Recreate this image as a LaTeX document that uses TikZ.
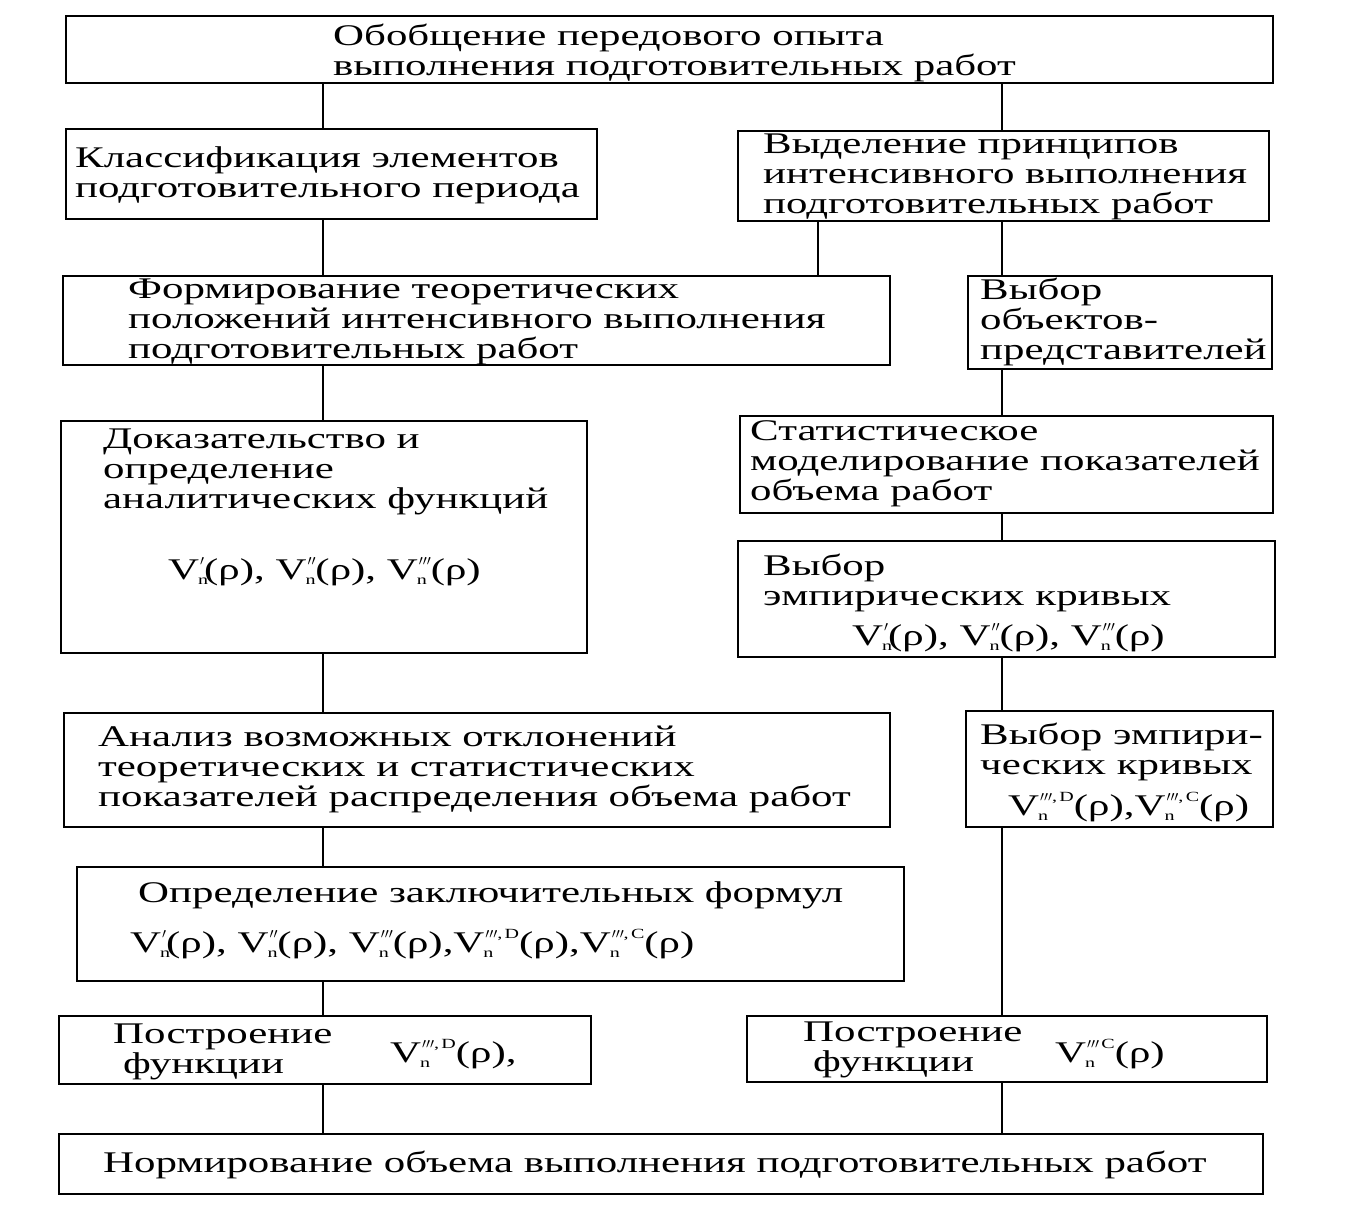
\documentclass[tikz,border=0pt]{standalone}
\usepackage{fontspec}
\setmainfont{Liberation Serif}[FakeStretch=1.43]
\newcommand\V[1]{V\kern-1pt\raisebox{-5pt}{\fontsize{14}{14}\selectfont n}\kern-8pt\raisebox{14pt}{\fontsize{14}{14}\selectfont #1}}
\newcommand\pa{$\prime$}
\newcommand\pb{$\prime\prime$}
\newcommand\pc{$\prime\prime\prime$}
\begin{document}
\begin{tikzpicture}[x=1pt,y=-1pt,
  box/.style={draw,line width=2.2pt,inner sep=0pt,anchor=north west},
  txt/.style={anchor=west,inner sep=0pt,align=left,font=\fontsize{30}{30}\selectfont},
  conn/.style={line width=2.2pt}]
\useasboundingbox (0,0) rectangle (1358,1212);
\newcommand\bx[5]{\node[box,minimum width=#4-#2,minimum height=#5-#3] (#1) at (#2,#3) {};}
\bx{b1}{65}{15}{1272}{82}
\bx{b2}{65}{128}{596}{218}
\bx{b3}{737}{130}{1268}{220}
\bx{b4}{62}{275}{889}{364}
\bx{b5}{967}{275}{1271}{368}
\bx{b6}{60}{420}{586}{652}
\bx{b7}{739}{415}{1272}{512}
\bx{b8}{737}{540}{1274}{656}
\bx{b9}{63}{712}{889}{826}
\bx{b10}{965}{710}{1272}{826}
\bx{b11}{76}{866}{903}{980}
\bx{b12}{58}{1015}{590}{1083}
\bx{b13}{746}{1015}{1266}{1081}
\bx{b14}{58}{1133}{1262}{1193}

\node[txt] (t1) at (333,53) {Обобщение передового опыта\\выполнения подготовительных работ};
\node[txt] (t2) at (75,175) {Классификация элементов\\подготовительного периода};
\node[txt] (t3) at (763,177) {Выделение принципов\\интенсивного выполнения\\подготовительных работ};
\node[txt] (t4) at (128,322) {Формирование теоретических\\положений интенсивного выполнения\\подготовительных работ};
\node[txt] (t5) at (980,322) {Выбор\\объектов-\\представителей};
\node[txt] (t6) at (103,472) {Доказательство и\\определение\\аналитических функций};
\node[txt] (f6) at (168,572) {\V{\pa}(ρ), \V{\pb}(ρ), \V{\pc}(ρ)};
\node[txt] (t7) at (750,464) {Статистическое\\моделирование показателей\\объема работ};
\node[txt] (t8) at (763,583) {Выбор\\эмпирических кривых};
\node[txt] (f8) at (852,638) {\V{\pa}(ρ), \V{\pb}(ρ), \V{\pc}(ρ)};
\node[txt] (t9) at (98,769) {Анализ возможных отклонений\\теоретических и статистических\\показателей распределения объема работ};
\node[txt] (t10) at (980,752) {Выбор эмпири-\\ческих кривых};
\node[txt] (f10) at (1008,807) {\V{\pc,\,D}(ρ),\V{\pc,\,C}(ρ)};
\node[txt] (t11) at (138,895) {Определение заключительных формул};
\node[txt] (f11) at (130,944) {\V{\pa}(ρ), \V{\pb}(ρ), \V{\pc}(ρ),\V{\pc,\,D}(ρ),\V{\pc,\,C}(ρ)};
\node[txt] (t12) at (113,1052) {Построение\\\hspace*{10pt}функции};
\node[txt] (f12) at (390,1054) {\V{\pc,\,D}(ρ),};
\node[txt] (t13) at (803,1050) {Построение\\\hspace*{10pt}функции};
\node[txt] (f13) at (1055,1054) {\V{\pc\,C}(ρ)};
\node[txt] (t14) at (103,1165) {Нормирование объема выполнения подготовительных работ};

\coordinate (cL) at (323,0);
\coordinate (cM) at (818,0);
\coordinate (cR) at (1002,0);
\draw[conn] (b1.south -| cL) -- (b2.north -| cL);
\draw[conn] (b1.south -| cR) -- (b3.north -| cR);
\draw[conn] (b2.south -| cL) -- (b4.north -| cL);
\draw[conn] (b3.south -| cM) -- (b4.north -| cM);
\draw[conn] (b3.south -| cR) -- (b5.north -| cR);
\draw[conn] (b4.south -| cL) -- (b6.north -| cL);
\draw[conn] (b5.south -| cR) -- (b7.north -| cR);
\draw[conn] (b7.south -| cR) -- (b8.north -| cR);
\draw[conn] (b6.south -| cL) -- (b9.north -| cL);
\draw[conn] (b8.south -| cR) -- (b10.north -| cR);
\draw[conn] (b9.south -| cL) -- (b11.north -| cL);
\draw[conn] (b10.south -| cR) -- (b13.north -| cR);
\draw[conn] (b11.south -| cL) -- (b12.north -| cL);
\draw[conn] (b12.south -| cL) -- (b14.north -| cL);
\draw[conn] (b13.south -| cR) -- (b14.north -| cR);
\end{tikzpicture}
\end{document}
